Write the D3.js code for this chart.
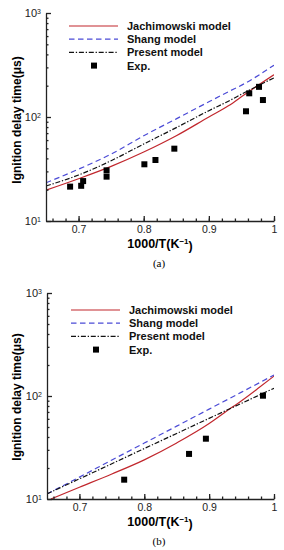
<!DOCTYPE html>
<html>
<head>
<meta charset="utf-8">
<script src="https://cdn.jsdelivr.net/npm/d3@7"></script>
<style>
  body { margin: 0; background: #fff; }
  svg { display: block; }
</style>
</head>
<body>
<div id="chart"></div>
<script>
// ---- data ----
var xTicks = [0.7, 0.8, 0.9, 1];
var yTicks = [10, 100, 1000];

// panel (a)
var modelXA = [0.65, 0.70, 0.75, 0.80, 0.85, 0.90, 0.93, 0.955, 1.0];
var jachA = [19.8, 25.5, 33.5, 46, 66, 100, 128, 165, 255];
var shangA = [23.3, 31.5, 44, 66, 96, 140, 175, 210, 315];
var presentA = [21.7, 27.7, 38, 55, 79, 115, 142, 172, 238];
var expXA = [0.687, 0.704, 0.707, 0.743, 0.743, 0.801, 0.818, 0.847, 0.957, 0.962, 0.977, 0.983];
var expYA = [21.4, 21.8, 24.2, 26.7, 30.7, 35.1, 38.6, 49.6, 113.5, 169, 195, 145.6];

// panel (b)
var modelXB = [0.65, 0.70, 0.75, 0.80, 0.85, 0.90, 0.95, 1.0];
var shangB = [11.2, 16.3, 23.9, 34.9, 51, 74.6, 109, 160];
var presentB = [11.2, 15.7, 22, 30.9, 43.3, 60.7, 85, 119];
var jachXB = [0.656, 0.70, 0.75, 0.80, 0.85, 0.90, 0.925, 0.95, 0.975, 1.0];
var jachB = [10, 13, 17.5, 24, 35, 54, 70, 90, 118, 156];
var expXB = [0.769, 0.869, 0.895, 0.983];
var expYB = [15.4, 27.4, 38.5, 100.7];

var legendNames = ["Jachimowski model", "Shang model", "Present model", "Exp."];

var svg = d3.select("#chart").append("svg")
    .attr("width", 284)
    .attr("height", 550);

var sans = "'Liberation Sans', Arial, sans-serif";

var styles = {
  jach: { stroke: "#c1272d", dash: null },
  shang: { stroke: "#4b4bd6", dash: "5.5,3.5" },
  present: { stroke: "#111", dash: "5,1.8,1.3,1.8" }
};

function zip(xs, ys) {
  return xs.map(function(x, i) { return { x: x, y: ys[i] }; });
}

function drawPanel(p) {
  var g = svg.append("g");
  var x = d3.scaleLinear().domain([0.65, 1.0]).range([p.left, 274]);
  var y = d3.scaleLog().domain([10, 1000]).range([p.bottom, p.top]);

  var clipId = "clip" + p.name;
  svg.append("clipPath").attr("id", clipId)
    .append("rect")
    .attr("x", p.left).attr("y", p.top)
    .attr("width", 274 - p.left).attr("height", p.bottom - p.top);

  var line = d3.line()
    .x(function(d) { return x(d.x); })
    .y(function(d) { return y(d.y); })
    .curve(d3.curveMonotoneX);

  var lines = g.append("g").attr("clip-path", "url(#" + clipId + ")");
  p.series.forEach(function(s) {
    lines.append("path")
      .datum(s.data)
      .attr("d", line)
      .attr("fill", "none")
      .attr("stroke", styles[s.key].stroke)
      .attr("stroke-width", 1.2)
      .attr("stroke-dasharray", styles[s.key].dash);
  });

  g.selectAll("rect.exp")
    .data(p.exp)
    .enter().append("rect")
    .attr("class", "exp")
    .attr("x", function(d) { return x(d.x) - 3; })
    .attr("y", function(d) { return y(d.y) - 3; })
    .attr("width", 6)
    .attr("height", 6)
    .attr("fill", "#000");

  // x axis
  var xAxis = g.append("g")
    .attr("transform", "translate(0," + p.bottom + ")")
    .call(d3.axisBottom(x).tickValues(xTicks).tickSizeInner(-5).tickSizeOuter(0)
      .tickPadding(5).tickFormat(function(d) { return d === 1 ? "1" : d3.format(".1f")(d); }));
  g.append("g")
    .attr("transform", "translate(0," + p.bottom + ")")
    .call(d3.axisBottom(x).tickValues(d3.range(33, 51).map(function(d) { return d / 50; }))
      .tickSizeInner(-2.5).tickSizeOuter(0).tickFormat(""))
    .select(".domain").remove();
  xAxis.selectAll("text")
    .attr("font-family", sans).attr("font-size", 10.5).attr("fill", "#222");

  // y axis
  var minor = [];
  [10, 100].forEach(function(dec) {
    for (var k = 2; k <= 9; k++) minor.push(dec * k);
  });
  var yAxis = g.append("g")
    .attr("transform", "translate(" + p.left + ",0)")
    .call(d3.axisLeft(y).tickValues(yTicks).tickSizeInner(-5).tickSizeOuter(0)
      .tickPadding(5).tickFormat(function() { return "10"; }));
  g.append("g")
    .attr("transform", "translate(" + p.left + ",0)")
    .call(d3.axisLeft(y).tickValues(minor).tickSizeInner(-2.5).tickSizeOuter(0).tickFormat(""))
    .select(".domain").remove();
  yAxis.selectAll("text")
    .attr("font-family", sans).attr("font-size", 11).attr("fill", "#222")
    .append("tspan")
    .attr("dy", "-0.45em")
    .attr("font-size", 7)
    .text(function(d) { return Math.round(Math.log10(d)); });

  g.selectAll(".domain, .tick line")
    .attr("stroke", "#222").attr("stroke-width", 1.3);

  // axis titles
  g.append("text")
    .attr("transform", "translate(17," + p.yLabelMid + ") rotate(-90)")
    .attr("text-anchor", "middle")
    .attr("dy", "0.35em")
    .attr("font-family", sans).attr("font-weight", "bold").attr("font-size", 12)
    .text("Ignition delay time(μs)");

  var xt = g.append("text")
    .attr("x", 160).attr("y", p.bottom + 27)
    .attr("text-anchor", "middle")
    .attr("font-family", sans).attr("font-weight", "bold").attr("font-size", 12.5)
    .text("1000/T(K");
  xt.append("tspan").attr("dy", "-0.45em").attr("font-size", 8).text("−1");
  xt.append("tspan").attr("dy", "0.45em").text(")");

  g.append("text")
    .attr("x", 159).attr("y", p.bottom + 46)
    .attr("text-anchor", "middle")
    .attr("font-family", "'Liberation Serif', serif").attr("font-size", 11)
    .text(p.label);

  // legend
  var keys = ["jach", "shang", "present"];
  var lg = g.append("g");
  legendNames.forEach(function(name, i) {
    var ly = p.legendTop + i * 13.2;
    if (i < 3) {
      lg.append("line")
        .attr("x1", p.legendX).attr("x2", p.legendX + 49)
        .attr("y1", ly).attr("y2", ly)
        .attr("stroke", styles[keys[i]].stroke)
        .attr("stroke-width", 1.2)
        .attr("stroke-dasharray", styles[keys[i]].dash);
    } else {
      lg.append("rect")
        .attr("x", p.legendX + 22).attr("y", ly - 3)
        .attr("width", 6).attr("height", 6).attr("fill", "#000");
    }
    lg.append("text")
      .attr("x", p.legendX + 58).attr("y", ly + 4)
      .attr("font-family", sans).attr("font-weight", "bold").attr("font-size", 11)
      .attr("fill", "#111")
      .text(name);
  });
}

drawPanel({
  name: "a", label: "(a)", left: 46, top: 13, bottom: 221, yLabelMid: 120,
  legendX: 69, legendTop: 26,
  series: [
    { key: "jach", data: zip(modelXA, jachA) },
    { key: "shang", data: zip(modelXA, shangA) },
    { key: "present", data: zip(modelXA, presentA) }
  ],
  exp: zip(expXA, expYA)
});

drawPanel({
  name: "b", label: "(b)", left: 47, top: 293, bottom: 499, yLabelMid: 397,
  legendX: 71, legendTop: 310,
  series: [
    { key: "jach", data: zip(jachXB, jachB) },
    { key: "shang", data: zip(modelXB, shangB) },
    { key: "present", data: zip(modelXB, presentB) }
  ],
  exp: zip(expXB, expYB)
});
</script>
</body>
</html>
